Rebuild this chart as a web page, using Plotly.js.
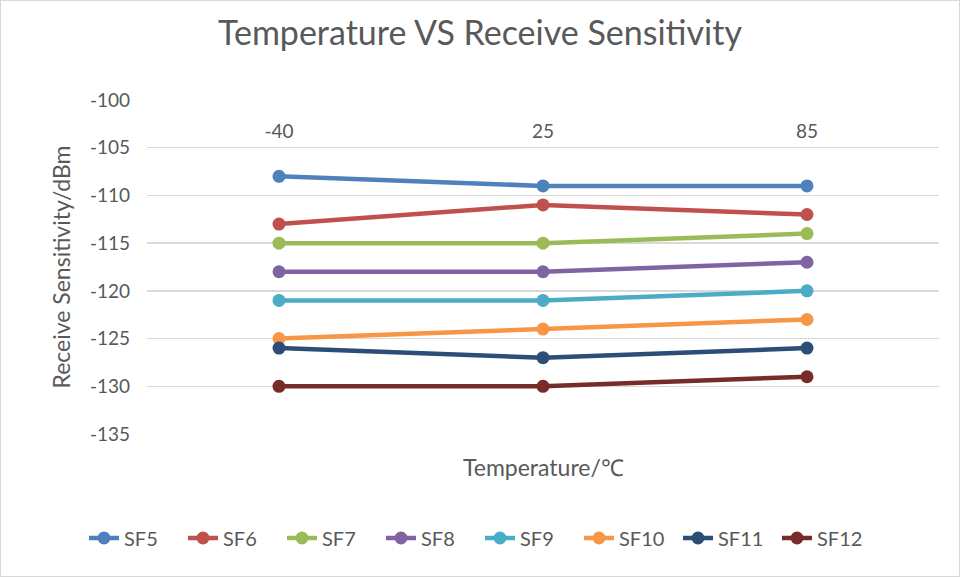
<!DOCTYPE html>
<html><head><meta charset="utf-8">
<script src="https://cdn.plot.ly/plotly-3.0.1.min.js"></script>
<style>html,body{margin:0;padding:0;background:#fff}#c{width:958px;height:575px;border:1px solid #d9d9d9}</style>
</head><body><div id="c"></div>
<script>
const categories = ["-40", "25", "85"];
const seriesNames = ["SF5","SF6","SF7","SF8","SF9","SF10","SF11","SF12"];
const SF5 = [-108, -109, -109];
const SF6 = [-113, -111, -112];
const SF7 = [-115, -115, -114];
const SF8 = [-118, -118, -117];
const SF9 = [-121, -121, -120];
const SF10 = [-125, -124, -123];
const SF11 = [-126, -127, -126];
const SF12 = [-130, -130, -129];
const seriesValues = [SF5, SF6, SF7, SF8, SF9, SF10, SF11, SF12];
const yTickVals = [-100, -105, -110, -115, -120, -125, -130, -135];
const yTickText = ["-100", "-105", "-110", "-115", "-120", "-125", "-130", "-135"];
const colors = ["#4f81bd","#c0504d","#9bbb59","#8064a2","#4bacc6","#f79646","#2c4d75","#772c2a"];

const font = "Lato, 'Open Sans', 'Liberation Sans', sans-serif";
const traces = seriesNames.map((n,i)=>({
  type:'scatter', mode:'lines+markers', name:n,
  x:categories, y:seriesValues[i],
  line:{color:colors[i], width:4.5},
  marker:{color:colors[i], size:13}
}));
const layout = {
  width:958, height:575,
  margin:{l:146, r:20, t:99, b:142, autoexpand:false},
  paper_bgcolor:'#fff', plot_bgcolor:'#fff',
  font:{family:font, color:'#595959'},
  title:{text:'Temperature VS Receive Sensitivity', font:{size:34, color:'#595959', family:font}, x:0.5, xanchor:'center', y:0.965, yanchor:'top'},
  xaxis:{type:'category', side:'bottom', anchor:'free', position:1, range:[-0.5,2.5], showgrid:false, zeroline:false, showline:false,
    ticks:'', ticklabelstandoff:18, tickfont:{size:19, color:'#595959'}, automargin:false},
  yaxis:{range:[-135,-100], tickmode:'array', tickvals:yTickVals, ticktext:yTickText, gridcolor:'#d9d9d9', gridwidth:1.3, zeroline:false, showline:false,
    ticks:'', ticklabelstandoff:16, tickfont:{size:19, color:'#595959'},
    title:{text:'Receive Sensitivity/dBm', font:{size:23, color:'#595959'}, standoff:12}, automargin:false},
  annotations:[{text:'Temperature/℃', xref:'paper', yref:'paper', x:0.5, y:-0.05, xanchor:'center', yanchor:'top', showarrow:false, font:{size:23, color:'#595959'}}],
  legend:{orientation:'h', xref:'container', yref:'container', x:0.5, xanchor:'center', y:0.1, yanchor:'top', font:{size:20, color:'#595959'}, entrywidth:54, entrywidthmode:'pixels', tracegroupgap:0},
  showlegend:true
};
Plotly.newPlot('c', traces, layout, {displayModeBar:false, staticPlot:true});
</script></body></html>
